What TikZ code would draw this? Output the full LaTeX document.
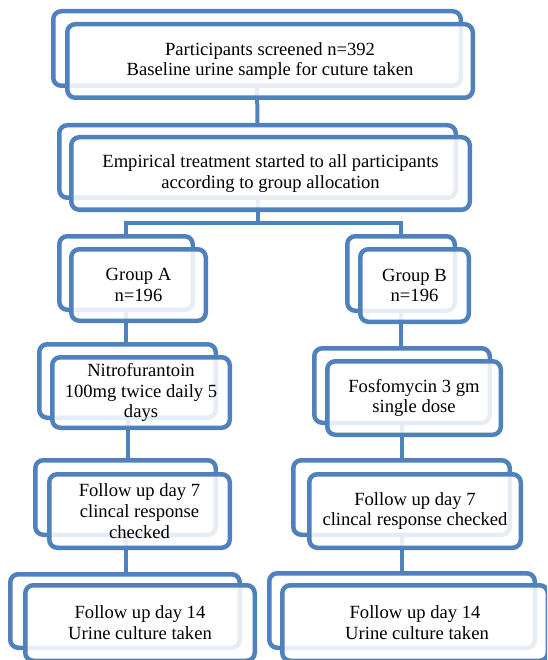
\documentclass[tikz,border=0pt]{standalone}
\usepackage{fontspec}
\setmainfont{Liberation Serif}
\definecolor{boxblue}{RGB}{79,129,189}
\pgfdeclarelayer{bg}
\pgfsetlayers{bg,main}
\tikzset{
  backbox/.style={draw=boxblue, line width=4.5pt, rounded corners=8pt, fill=white, inner sep=0pt},
  frontbox/.style={draw=boxblue, line width=4.5pt, rounded corners=8pt, fill=white, fill opacity=0.86, text opacity=1, inner sep=0pt, align=center, font=\fontsize{18.6}{20.8}\selectfont},
  conn/.style={draw=boxblue, line width=4pt}
}
\begin{document}
\begin{tikzpicture}[x=1pt,y=-1pt]
\clip (0,0) rectangle (547,660);
\useasboundingbox (0,0) rectangle (547,660);
% row 1
\node[backbox, minimum width=407.5pt, minimum height=74.5pt] (b1) at (257,48.5) {};
\node[frontbox, minimum width=405.5pt, minimum height=73.5pt] (f1) at (270,61) {Participants screened n=392\\Baseline urine sample for cuture taken};
% row 2
\node[backbox, minimum width=396.5pt, minimum height=72.5pt] (b2) at (257.5,161.5) {};
\node[frontbox, minimum width=398.5pt, minimum height=72.5pt] (f2) at (270.5,173.5) {Empirical treatment started to all participants\\according to group allocation};
% groups
\node[backbox, minimum width=133.5pt, minimum height=73.5pt] (bA) at (126,273) {};
\node[frontbox, minimum width=134.5pt, minimum height=71.5pt] (fA) at (138.5,285) {Group A\\n=196};
\node[backbox, minimum width=107.5pt, minimum height=74.5pt] (bB) at (401,273.5) {};
\node[frontbox, minimum width=108.5pt, minimum height=72.5pt] (fB) at (414.5,285.5) {Group B\\n=196};
% treatments
\node[backbox, minimum width=176.5pt, minimum height=73.5pt] (bN) at (127.5,381) {};
\node[frontbox, minimum width=177.5pt, minimum height=70.5pt] (fN) at (141,392.5) {Nitrofurantoin\\100mg twice daily 5\\days};
\node[backbox, minimum width=175.5pt, minimum height=74.5pt] (bF) at (402,385.5) {};
\node[frontbox, minimum width=173.5pt, minimum height=73.5pt] (fF) at (414,398) {Fosfomycin 3 gm\\single dose};
% day 7
\node[backbox, minimum width=180.5pt, minimum height=74.5pt] (bA7) at (125.5,497.5) {};
\node[frontbox, minimum width=180.5pt, minimum height=73.5pt] (fA7) at (139.5,511) {Follow up day 7\\clincal response\\checked};
\node[backbox, minimum width=216.5pt, minimum height=74.5pt] (bB7) at (401.5,497.5) {};
\node[frontbox, minimum width=211.5pt, minimum height=73.5pt] (fB7) at (415,511) {Follow up day 7\\clincal response checked};
% day 14
\node[backbox, minimum width=229.5pt, minimum height=73.5pt] (bA14) at (125,611) {};
\node[frontbox, minimum width=229.5pt, minimum height=75.5pt] (fA14) at (140,623) {Follow up day 14\\Urine culture taken};
\node[backbox, minimum width=265.5pt, minimum height=74.5pt] (bB14) at (402,610.5) {};
\node[frontbox, minimum width=265.5pt, minimum height=75.5pt] (fB14) at (415,623) {Follow up day 14\\\hspace{4pt}Urine culture taken};
% connectors
\begin{pgfonlayer}{bg}
\coordinate (sp) at (257.5,223);
\draw[conn] (b1.center) -- (b2.center);
\draw[conn] (b2.center) -- (sp);
\draw[conn] (bA.center) |- (sp) -| (bB.center);
\draw[conn] (bA.center) -- (bA.center |- bN.center);
\draw[conn] (bN.center) -- (bN.center |- bA7.center);
\draw[conn] (bA7.center) -- (bA7.center |- bA14.center);
\draw[conn] (bB.center) -- (bB.center |- bF.center);
\draw[conn] (bF.center) -- (bF.center |- bB7.center);
\draw[conn] (bB7.center) -- (bB7.center |- bB14.center);
\end{pgfonlayer}
\end{tikzpicture}
\end{document}
